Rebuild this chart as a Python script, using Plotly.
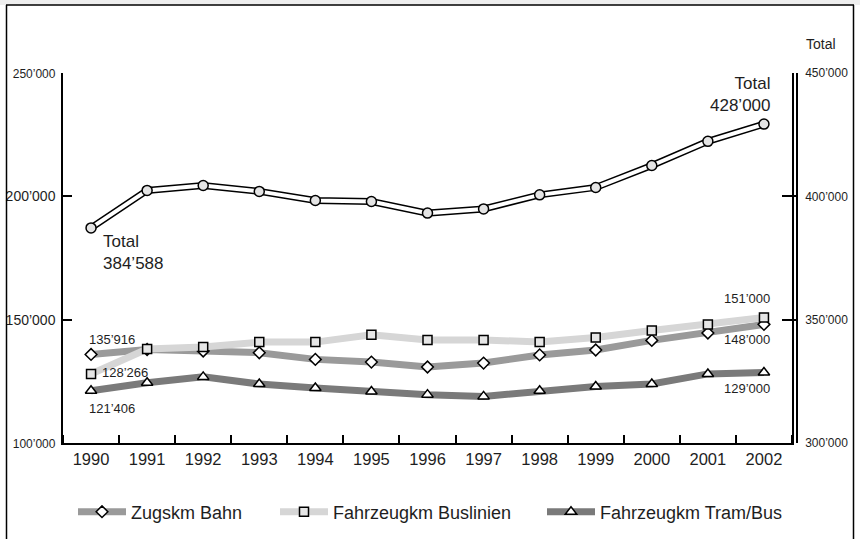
import plotly.graph_objects as go

years = [1990, 1991, 1992, 1993, 1994, 1995, 1996, 1997, 1998, 1999, 2000, 2001, 2002]
total = [387200, 402400, 404400, 402000, 398300, 397900, 393200, 394900, 400600, 403600, 412500, 422300, 429300]
zugskm_bahn = [135900, 137900, 137300, 136600, 133900, 132800, 130800, 132400, 135700, 137700, 141600, 144600, 148100]
buslinien = [128000, 138100, 138900, 140900, 140900, 143900, 141800, 141800, 140900, 142800, 145600, 148000, 150900]
tram_bus = [121200, 124400, 126800, 123900, 122300, 120900, 119600, 118900, 121200, 122900, 123900, 128000, 128600]

left_ticks = [100000, 150000, 200000, 250000]
left_ticktext = ["<span style='font-size:12px'>100’000</span>", "150’000", "200’000",
                 "<span style='font-size:12px'>250’000</span>"]
right_ticks = [300000, 350000, 400000, 450000]
right_ticktext = ["300’000", "350’000", "400’000", "450’000"]

FONT = "Liberation Sans, Arial, sans-serif"
TXT = "#1e1e1e"

fig = go.Figure()

# Total (double line effect)
fig.add_trace(go.Scatter(x=years, y=total, yaxis="y2", mode="lines",
                         line=dict(color="black", width=7), showlegend=False, hoverinfo="skip"))
fig.add_trace(go.Scatter(x=years, y=total, yaxis="y2", mode="lines+markers",
                         line=dict(color="white", width=4),
                         marker=dict(symbol="circle", size=10, color="#e4e4e4",
                                     line=dict(color="black", width=1.5)),
                         showlegend=False, name="Total"))

fig.add_trace(go.Scatter(x=years, y=zugskm_bahn, mode="lines+markers", name="Zugskm Bahn",
                         line=dict(color="#9a9a9a", width=7), legend="legend",
                         marker=dict(symbol="diamond", size=9, color="white",
                                     line=dict(color="black", width=1.5))))
fig.add_trace(go.Scatter(x=years, y=buslinien, mode="lines+markers", name="Fahrzeugkm Buslinien",
                         line=dict(color="#d6d6d6", width=7), legend="legend2",
                         marker=dict(symbol="square", size=9, color="#e6e6e6",
                                     line=dict(color="black", width=1.5))))
fig.add_trace(go.Scatter(x=years, y=tram_bus, mode="lines+markers", name="Fahrzeugkm Tram/Bus",
                         line=dict(color="#7a7a7a", width=7), legend="legend3",
                         marker=dict(symbol="triangle-up", size=10, color="white",
                                     line=dict(color="black", width=1.5))))

W, H = 860, 539
L, R, T, B = 63, 63, 73, 96
pw = W - L - R
ph = H - T - B
def px_x(x):
    return (x - L) / pw
def px_y(y):
    return 1 + (T - y) / ph

dom_end = (792 - L) / pw

def leg(xpx):
    return dict(orientation="h", x=px_x(xpx), xanchor="left", y=px_y(512), yanchor="middle",
                font=dict(family=FONT, size=18, color=TXT), itemwidth=48,
                bgcolor="rgba(0,0,0,0)")

fig.update_layout(
    width=W, height=H,
    margin=dict(l=L, r=R, t=T, b=B, autoexpand=False),
    paper_bgcolor="white", plot_bgcolor="white",
    font=dict(family=FONT, color=TXT),
    xaxis=dict(domain=[0, dom_end], range=[1989.5, 2002.5],
               tickvals=years, ticktext=[str(y) for y in years],
               ticks="", showgrid=False, zeroline=False,
               showline=True, linecolor="black", linewidth=1.5,
               tickfont=dict(family=FONT, size=16.5, color=TXT),
               minor=dict(tick0=1989.5, dtick=1, ticks="inside", ticklen=8,
                          tickcolor="black", tickwidth=1.5, showgrid=False)),
    yaxis=dict(range=[100000, 250000], tickvals=left_ticks, ticktext=left_ticktext,
               ticks="inside", ticklen=9, tickwidth=1.5, tickcolor="black",
               showline=True, linecolor="black", linewidth=1.5, mirror=True,
               showgrid=False, zeroline=False, ticklabelstandoff=3,
               tickfont=dict(family=FONT, size=14, color=TXT)),
    yaxis2=dict(range=[300000, 450000], tickvals=right_ticks, ticktext=right_ticktext,
                overlaying="y", side="right", anchor="free", position=1,
                ticks="inside", ticklen=14, tickwidth=1.5, tickcolor="black",
                showline=True, linecolor="black", linewidth=1.5,
                showgrid=False, zeroline=False, ticklabelstandoff=5,
                tickfont=dict(family=FONT, size=12, color=TXT)),
    legend=leg(73), legend2=leg(275), legend3=leg(542),
    showlegend=True,
)

ann_small = dict(family=FONT, size=13, color=TXT)
ann_big = dict(family=FONT, size=17, color=TXT)
fig.add_annotation(x=years[0], y=total[0], yref="y2", text="Total<br>384’588", showarrow=False,
                   xanchor="left", yanchor="top", xshift=10, yshift=-2, align="left", font=ann_big)
fig.add_annotation(x=years[-1], y=total[-1], yref="y2", text="Total<br>428’000", showarrow=False,
                   xanchor="right", yanchor="bottom", xshift=9, yshift=7, align="right", font=ann_big)
fig.add_annotation(x=years[0], y=zugskm_bahn[0], text="135’916", showarrow=False,
                   xanchor="left", yanchor="bottom", xshift=-4, yshift=5, font=ann_small)
fig.add_annotation(x=years[0], y=buslinien[0], text="128’266", showarrow=False,
                   xanchor="left", yanchor="middle", xshift=9, yshift=1, font=ann_small)
fig.add_annotation(x=years[0], y=tram_bus[0], text="121’406", showarrow=False,
                   xanchor="left", yanchor="top", xshift=-4, yshift=-8, font=ann_small)
fig.add_annotation(x=years[-1], y=buslinien[-1], text="151’000", showarrow=False,
                   xanchor="right", yanchor="bottom", xshift=8, yshift=9, font=ann_small)
fig.add_annotation(x=years[-1], y=zugskm_bahn[-1], text="148’000", showarrow=False,
                   xanchor="right", yanchor="top", xshift=8, yshift=-6, font=ann_small)
fig.add_annotation(x=years[-1], y=tram_bus[-1], text="129’000", showarrow=False,
                   xanchor="right", yanchor="top", xshift=8, yshift=-7, font=ann_small)
fig.add_annotation(xref="paper", yref="paper", x=px_x(821), y=px_y(44), text="Total", showarrow=False,
                   xanchor="center", yanchor="middle", font=dict(family=FONT, size=14, color=TXT))

# frame
fig.add_shape(type="rect", xref="paper", yref="paper", x0=px_x(0), x1=px_x(860), y0=px_y(0), y1=px_y(5),
              fillcolor="#eeeeee", line=dict(width=0), layer="below")
fig.add_shape(type="line", xref="paper", yref="paper", x0=px_x(6), x1=px_x(854), y0=px_y(5), y1=px_y(5),
              line=dict(color="black", width=1.5))
fig.add_shape(type="line", xref="paper", yref="paper", x0=px_x(6.5), x1=px_x(6.5), y0=px_y(5), y1=px_y(545),
              line=dict(color="black", width=1.5))
fig.add_shape(type="line", xref="paper", yref="paper", x0=px_x(853.5), x1=px_x(853.5), y0=px_y(5), y1=px_y(545),
              line=dict(color="black", width=1.5))

fig.write_html("out.html", config={"displayModeBar": False},
               post_script="document.body.style.margin='0';document.body.style.overflow='hidden';")
